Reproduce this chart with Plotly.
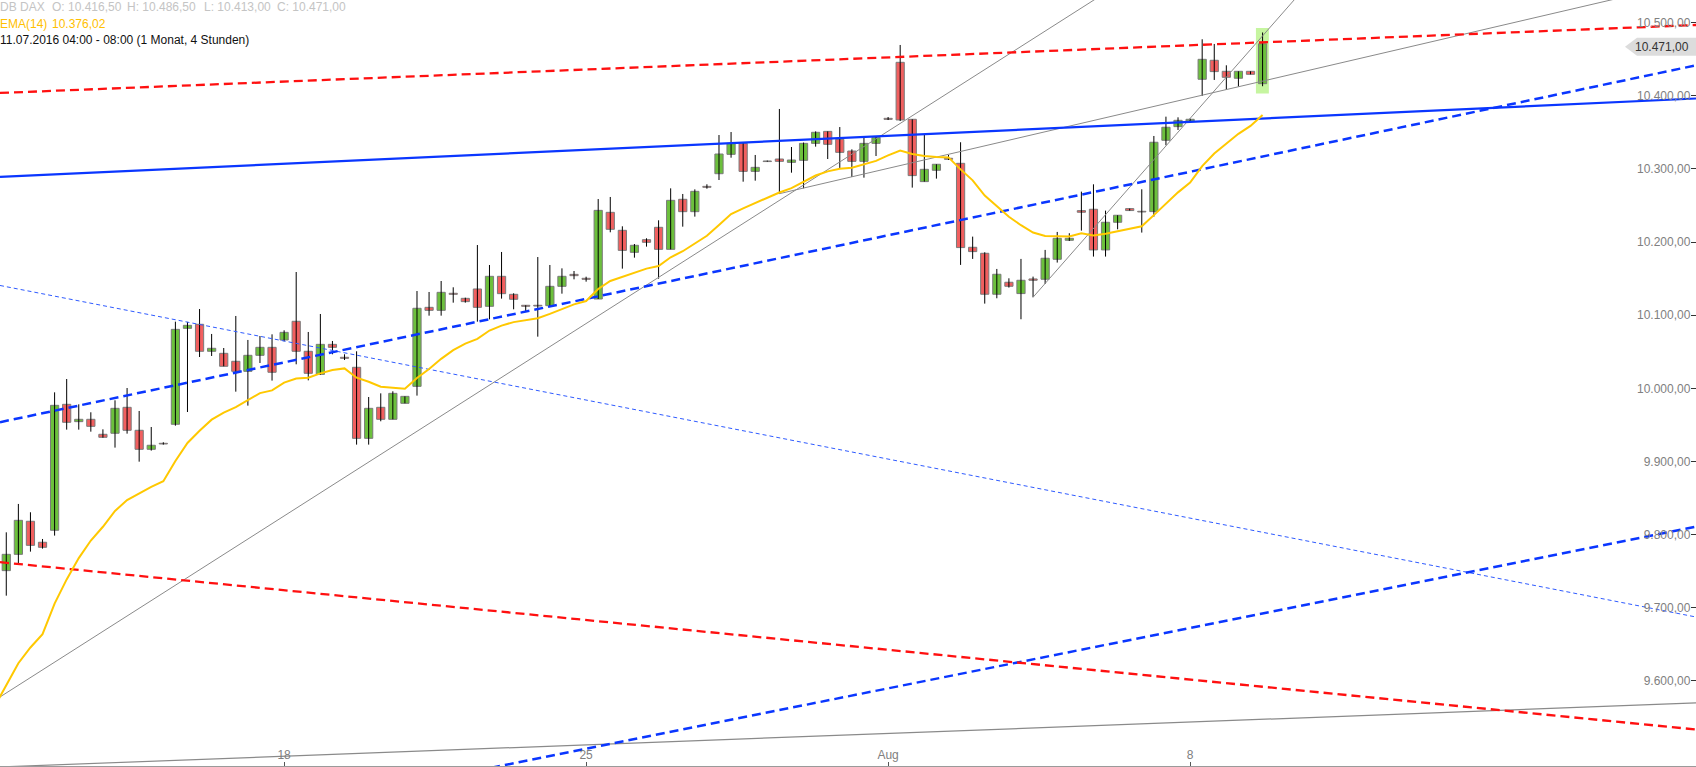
import plotly.graph_objects as go

# ---------------- data ----------------
candle_idx = list(range(105))

opens = [9750.7, 9773.0, 9818.2, 9789.5, 9805.9, 9978.1, 9954.4, 9957.6, 9937.1, 9938.5,
         9974.0, 9942.6, 9916.6, 9924.8, 9950.8, 10082.0, 10087.5, 10050.6, 10047.8, 10036.9,
         10023.2, 10045.1, 10056.0, 10066.1, 10091.6, 10050.6, 10019.1, 10060.1, 10042.4, 10028.7,
         9931.6, 9974.0, 9957.6, 9979.5, 10002.7, 10110.7, 10106.6, 10129.9, 10123.0, 10135.8,
         10112.1, 10153.1, 10128.5, 10113.5, 10113.5, 10113.0, 10139.4, 10155.8, 10150.4, 10122.1,
         10240.6, 10216.0, 10185.9, 10203.2, 10220.1, 10190.0, 10258.4, 10241.5, 10276.1, 10293.4,
         10319.9, 10334.9, 10296.6, 10310.8, 10313.5, 10308.9, 10311.7, 10334.9, 10351.3, 10340.4,
         10324.4, 10310.3, 10334.9, 10369.1, 10445.7, 10367.8, 10282.6, 10298.1, 10314.5, 10307.6,
         10192.8, 10184.6, 10128.6, 10145.0, 10129.5, 10149.5, 10149.1, 10176.4, 10202.4, 10242.9,
         10244.8, 10189.2, 10227.0, 10245.7, 10242.0, 10241.6, 10339.1, 10357.8, 10365.5, 10422.5,
         10448.5, 10433.4, 10423.9, 10433.4, 10416.5]
highs = [9803.1, 9841.9, 9830.5, 9794.0, 9994.5, 10012.7, 9978.1, 9967.2, 9943.9, 9983.6,
         10000.4, 9969.0, 9947.1, 9926.2, 10091.1, 10090.7, 10108.4, 10074.3, 10055.1, 10098.9,
         10066.1, 10071.5, 10073.8, 10079.3, 10159.0, 10077.0, 10101.6, 10064.7, 10046.5, 10050.6,
         9988.1, 9993.1, 9995.9, 9989.0, 10133.0, 10131.7, 10146.7, 10138.1, 10123.9, 10195.9,
         10168.6, 10186.4, 10129.9, 10113.5, 10179.5, 10168.6, 10164.0, 10160.4, 10152.6, 10258.8,
         10261.6, 10221.5, 10197.3, 10205.1, 10229.7, 10273.4, 10265.7, 10272.0, 10278.9, 10346.3,
         10350.4, 10335.8, 10319.0, 10311.3, 10381.9, 10329.9, 10336.0, 10351.3, 10351.3, 10357.2,
         10326.7, 10344.0, 10344.0, 10370.9, 10469.4, 10367.8, 10346.4, 10306.3, 10319.0, 10336.4,
         10207.4, 10186.0, 10163.2, 10150.4, 10176.9, 10152.7, 10189.2, 10213.8, 10212.0, 10268.9,
         10278.9, 10242.9, 10236.6, 10245.7, 10272.1, 10345.0, 10371.4, 10370.5, 10368.7, 10477.2,
         10470.8, 10441.6, 10433.4, 10433.4, 10486.5]
lows = [9716.5, 9759.8, 9776.7, 9780.8, 9798.6, 9943.5, 9943.5, 9940.7, 9932.5, 9918.9,
        9938.0, 9899.7, 9914.8, 9923.0, 9948.9, 9967.6, 10042.8, 10044.2, 10030.1, 9995.4,
        9976.3, 10034.6, 10010.5, 10064.2, 10032.8, 10010.9, 10018.2, 10046.5, 10038.7, 9923.0,
        9923.0, 9954.9, 9957.6, 9979.5, 9990.0, 10099.3, 10099.3, 10117.1, 10117.1, 10091.1,
        10094.3, 10122.6, 10108.0, 10104.3, 10070.6, 10111.6, 10129.4, 10149.0, 10145.8, 10122.1,
        10213.3, 10163.6, 10178.6, 10193.7, 10149.9, 10190.0, 10221.0, 10234.7, 10272.9, 10284.8,
        10315.3, 10282.5, 10283.9, 10309.9, 10266.1, 10294.8, 10273.4, 10330.4, 10313.5, 10301.2,
        10288.9, 10288.0, 10317.6, 10366.8, 10365.5, 10274.4, 10282.6, 10286.7, 10312.2, 10168.7,
        10176.9, 10115.8, 10123.1, 10137.7, 10094.4, 10124.5, 10142.7, 10171.9, 10201.5, 10215.6,
        10180.1, 10180.1, 10217.4, 10243.0, 10212.9, 10234.7, 10332.3, 10353.2, 10364.6, 10399.7,
        10421.6, 10407.9, 10412.5, 10429.3, 10413.0]
closes = [9773.0, 9819.5, 9785.3, 9782.6, 9976.7, 9953.5, 9957.6, 9948.0, 9933.0, 9972.6,
          9942.6, 9916.6, 9922.1, 9923.9, 10080.6, 10086.1, 10050.6, 10054.7, 10030.1, 10023.2,
          10045.1, 10056.0, 10021.9, 10076.5, 10050.6, 10020.5, 10060.1, 10056.0, 10041.0, 9931.6,
          9972.6, 9957.6, 9993.1, 9989.0, 10109.4, 10106.6, 10131.2, 10128.5, 10118.5, 10110.7,
          10153.1, 10129.4, 10121.7, 10112.1, 10112.5, 10139.4, 10153.1, 10154.0, 10149.0, 10243.3,
          10217.4, 10188.6, 10195.5, 10199.6, 10190.0, 10257.0, 10241.5, 10269.3, 10274.8, 10320.3,
          10334.9, 10296.6, 10302.1, 10310.0, 10310.3, 10312.1, 10334.9, 10350.0, 10333.6, 10322.6,
          10310.3, 10334.9, 10343.1, 10367.7, 10366.9, 10290.8, 10299.4, 10306.3, 10313.1, 10192.4,
          10186.9, 10128.6, 10155.9, 10139.5, 10147.7, 10147.7, 10177.8, 10205.1, 10205.1, 10240.7,
          10189.2, 10227.0, 10236.6, 10243.0, 10241.1, 10336.4, 10356.9, 10366.4, 10367.8, 10449.8,
          10433.0, 10425.2, 10433.4, 10429.3, 10471.0]

ema_idx = list(range(-1, 105))
ema14 = [9564.0, 9594.0, 9624.1, 9645.6, 9663.9, 9705.7, 9738.7, 9767.9, 9791.9, 9810.7, 9832.3,
         9847.1, 9856.3, 9865.1, 9872.9, 9900.6, 9925.3, 9942.0, 9957.1, 9966.8, 9974.3,
         9983.8, 9993.4, 9997.2, 10007.8, 10013.5, 10014.4, 10020.4, 10025.1, 10027.2, 10014.5,
         10008.9, 10002.1, 10000.9, 9999.3, 10014.0, 10026.3, 10040.3, 10052.1, 10061.0, 10067.6,
         10079.0, 10085.7, 10090.5, 10093.4, 10095.9, 10101.7, 10108.6, 10114.7, 10119.3, 10135.8,
         10146.7, 10152.3, 10158.1, 10163.6, 10167.1, 10179.1, 10187.4, 10198.3, 10208.5, 10223.4,
         10238.3, 10246.1, 10253.6, 10261.1, 10267.7, 10273.6, 10281.8, 10290.9, 10296.6, 10300.1,
         10301.5, 10306.0, 10310.9, 10318.5, 10325.0, 10320.4, 10317.6, 10316.1, 10315.7, 10299.3,
         10284.3, 10263.5, 10249.2, 10234.6, 10223.0, 10213.0, 10208.3, 10207.9, 10207.5, 10211.9,
         10208.9, 10211.3, 10214.7, 10218.5, 10221.5, 10236.8, 10252.8, 10267.9, 10281.2, 10303.7,
         10320.9, 10334.8, 10347.9, 10358.8, 10373.8]

x_tick_vals = [23, 48, 73, 98]
x_tick_text = ["18", "25", "Aug", "8"]

# drawn trend lines: endpoints as (candle index, price)
red_upper_x, red_upper_y = [-0.52, 139.88], [10403.8, 10496.7]
red_lower_x, red_lower_y = [-0.52, 139.88], [9762.3, 9533.5]
blue_solid_x, blue_solid_y = [-0.52, 139.88], [10289.0, 10396.2]
blue_dash_up_x, blue_dash_up_y = [-0.52, 139.88], [9953.7, 10441.6]
blue_dash_lo_x, blue_dash_lo_y = [39.0, 139.88], [9477.4, 9810.8]
blue_dot_x, blue_dot_y = [-0.52, 139.88], [10140.6, 9687.3]
gray_a_x, gray_a_y = [-0.52, 95.0], [9578.0, 10583.1]
gray_b_x, gray_b_y = [64.0, 140.0], [10266.1, 10558.5]
gray_c_x, gray_c_y = [85.0, 108.0], [10124.5, 10557.1]
gray_d_x, gray_d_y = [-0.52, 139.88], [9482.3, 9569.8]

header_ohlc = ["O: 10.416,50", "H: 10.486,50", "L: 10.413,00", "C: 10.471,00"]
ema_label_value = "10.376,02"
last_price_label = "10.471,00"

# ---------------- styling ----------------
FONT = "Liberation Sans, Arial, sans-serif"
GREEN = "#6cc03c"
RED = "#f15f5f"
BLUE = "#0a36ff"
X_RANGE = [-0.52, 139.88]
Y_RANGE = [9483.6, 10530.9]

fig = go.Figure()

# wicks
wx, wy = [], []
for i, h, l in zip(candle_idx, highs, lows):
    wx += [i, i, None]
    wy += [l, h, None]
fig.add_trace(go.Scatter(x=wx, y=wy, mode="lines", line=dict(color="#000000", width=1),
                         hoverinfo="skip", showlegend=False))

# bodies
base = [min(o, c) for o, c in zip(opens, closes)]
height = [max(abs(c - o), 0.5) for o, c in zip(opens, closes)]
colors = [GREEN if c >= o else RED for o, c in zip(opens, closes)]
fig.add_trace(go.Bar(x=candle_idx, y=height, base=base, width=0.68,
                     marker=dict(color=colors, line=dict(color="#7a7a7a", width=1)),
                     hoverinfo="skip", showlegend=False))

def line(x, y, color, width, dash="solid"):
    fig.add_trace(go.Scatter(x=x, y=y, mode="lines",
                             line=dict(color=color, width=width, dash=dash),
                             hoverinfo="skip", showlegend=False))

line(gray_a_x, gray_a_y, "#8a8a8a", 1)
line(gray_b_x, gray_b_y, "#8a8a8a", 1)
line(gray_c_x, gray_c_y, "#8a8a8a", 1)
line(gray_d_x, gray_d_y, "#8a8a8a", 1.2)
line(blue_dot_x, blue_dot_y, "#2f5bff", 1, "4px,3px")
line(blue_solid_x, blue_solid_y, BLUE, 2.2)
line(blue_dash_up_x, blue_dash_up_y, BLUE, 2.5, "9px,5px")
line(blue_dash_lo_x, blue_dash_lo_y, BLUE, 2.5, "9px,5px")
line(red_upper_x, red_upper_y, "#ff1010", 2.3, "9px,5px")
line(red_lower_x, red_lower_y, "#ff1010", 2.3, "9px,5px")

# EMA(14)
fig.add_trace(go.Scatter(x=ema_idx, y=ema14, mode="lines",
                         line=dict(color="#ffc800", width=2),
                         hoverinfo="skip", showlegend=False))

# highlight of the last candle
last = candle_idx[-1]
fig.add_shape(type="rect", xref="x", yref="y", layer="below",
              x0=last - 0.55, x1=last + 0.52, y0=lows[-1] - 10, y1=highs[-1] + 6,
              fillcolor="#c6f5a0", line=dict(width=0))

# last price tag
fig.add_shape(type="path", xref="paper", yref="y", xsizemode="pixel", ysizemode="pixel",
              xanchor=1, yanchor=closes[-1],
              path="M -71,-3 L -59,-12 L 0,-12 L 0,6 L -59,6 Z",
              fillcolor="#dcdcdc", line=dict(width=0), layer="above")
fig.add_annotation(x=1, y=closes[-1], xref="paper", yref="y", xanchor="right", yanchor="middle",
                   xshift=-5, yshift=-3, text=last_price_label, showarrow=False,
                   font=dict(family=FONT, size=12, color="#333333"))

# header texts
def hdr(text, x_px, y_px, color):
    fig.add_annotation(x=0, y=1, xref="paper", yref="paper", xanchor="left", yanchor="middle",
                       xshift=x_px, yshift=-y_px, text=text, showarrow=False, borderpad=0,
                       font=dict(family=FONT, size=12, color=color))

hdr("DB DAX", -1, 7, "#c4c4c4")
for txt, xp in zip(header_ohlc, [52, 127, 204, 277]):
    hdr(txt, xp - 1, 7, "#c4c4c4")
hdr("EMA(14)", -1, 23.5, "#ffc000")
hdr(ema_label_value, 51, 23.5, "#ffc000")
hdr("11.07.2016 04:00 - 08:00 (1 Monat, 4 Stunden)", -1, 39.5, "#111111")

fig.update_layout(
    width=1696, height=767, autosize=False,
    margin=dict(l=0, r=0, t=0, b=1, pad=0),
    paper_bgcolor="white", plot_bgcolor="white",
    separators=",.", barmode="overlay", bargap=0,
    showlegend=False,
    font=dict(family=FONT, size=12, color="#808080"),
    xaxis=dict(range=X_RANGE, autorange=False, tickmode="array",
               tickvals=x_tick_vals, ticktext=x_tick_text,
               ticks="inside", ticklen=4, tickcolor="#555555", tickwidth=1,
               ticklabelposition="inside", tickfont=dict(family=FONT, size=12, color="#808080"),
               showgrid=False, zeroline=False, showline=True, linecolor="#9a9a9a", linewidth=1),
    yaxis=dict(range=Y_RANGE, autorange=False, side="right", dtick=100, tick0=9500,
               tickformat=",.2f", ticks="inside", ticklen=5, tickcolor="#333333",
               ticklabelposition="inside", tickfont=dict(family=FONT, size=12, color="#808080"),
               showgrid=False, zeroline=False, showline=False),
)

fig.write_html("out.html", config={"displayModeBar": False, "staticPlot": True},
               post_script="document.body.style.margin='0';document.body.style.overflow='hidden';")
